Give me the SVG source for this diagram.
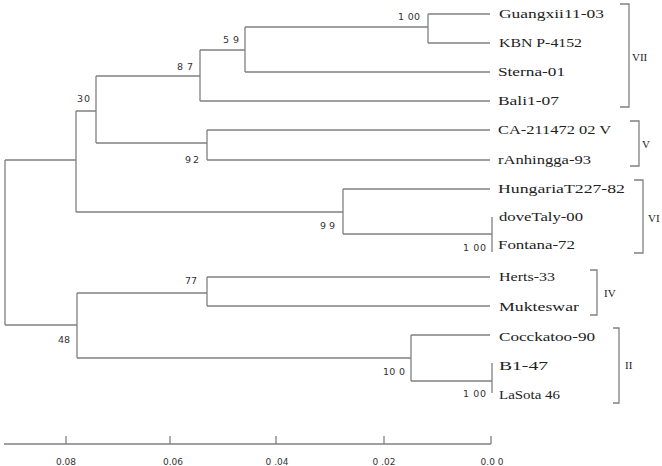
<svg xmlns="http://www.w3.org/2000/svg" width="662" height="466" viewBox="0 0 662 466">
<style>
  .br{stroke:#808080;stroke-width:1.3;fill:none}
  .leaf{font-family:"Liberation Serif","Times New Roman",serif;font-size:13.5px;fill:#222}
  .bs{font-family:"DejaVu Sans","Verdana",sans-serif;font-size:9.5px;fill:#333}
  .cl{font-family:"Liberation Serif","Times New Roman",serif;font-size:11px;fill:#222}
  .ax{font-family:"DejaVu Sans","Verdana",sans-serif;font-size:9px;fill:#333;text-anchor:middle}
</style>
<rect width="662" height="466" fill="#ffffff"/>
<g id="connectors" class="br">
  <!-- root -->
  <path d="M5,160 V325 M5,160 H76 M5,325 H77"/>
  <!-- upper clade node -->
  <path d="M76,111 V212 M76,111 H96 M76,212 H343"/>
  <!-- node 30 -->
  <path d="M96,76 V143 M96,76 H200 M96,143 H207"/>
  <!-- node 87 -->
  <path d="M200,50 V101 M200,50 H245 M200,101 H490"/>
  <!-- node 59 -->
  <path d="M245,27 V72 M245,27 H428 M245,72 H490"/>
  <!-- node 100 -->
  <path d="M428,14 V43 M428,14 H490 M428,43 H490"/>
  <!-- node 92 -->
  <path d="M207,130 V160 M207,130 H490 M207,160 H490"/>
  <!-- node 99 -->
  <path d="M343,189 V234 M343,189 H490 M343,234 H492"/>
  <path d="M492,217 V252"/>
  <!-- node 48 -->
  <path d="M77,293 V358 M77,293 H207 M77,358 H411"/>
  <!-- node 77 -->
  <path d="M207,277 V306 M207,277 H490 M207,306 H490"/>
  <!-- node 100 cockatoo -->
  <path d="M411,335 V381 M411,335 H490 M411,381 H492"/>
  <path d="M492,363 V393"/>
</g>
<g id="bootstrap">
  <g id="n100a"><text class="bs" x="398" y="20" textLength="22">1 00</text></g>
  <g id="n59"><text class="bs" x="223" y="43" textLength="16">5 9</text></g>
  <g id="n87"><text class="bs" x="177" y="70" textLength="16">8 7</text></g>
  <g id="n30"><text class="bs" x="77" y="102" textLength="13">30</text></g>
  <g id="n92"><text class="bs" x="185" y="163" textLength="14">9 2</text></g>
  <g id="n99"><text class="bs" x="320" y="229" textLength="15">99</text></g>
  <g id="n100b"><text class="bs" x="463" y="251" textLength="23">1 00</text></g>
  <g id="n77"><text class="bs" x="185" y="284" textLength="12">77</text></g>
  <g id="n48"><text class="bs" x="58" y="343" textLength="12">48</text></g>
  <g id="n100c"><text class="bs" x="383" y="375" textLength="22">10 0</text></g>
  <g id="n100d"><text class="bs" x="463" y="397" textLength="23">1 00</text></g>
</g>
<g id="leaves">
  <g id="leaf-guangxi"><text class="leaf" x="499" y="18" textLength="105" lengthAdjust="spacingAndGlyphs">Guangxii11-03</text></g>
  <g id="leaf-kbnp"><text class="leaf" x="499" y="47" textLength="83" lengthAdjust="spacingAndGlyphs">KBN P-4152</text></g>
  <g id="leaf-sterna"><text class="leaf" x="498" y="76" textLength="67" lengthAdjust="spacingAndGlyphs">Sterna-01</text></g>
  <g id="leaf-bali"><text class="leaf" x="498" y="105" textLength="61" lengthAdjust="spacingAndGlyphs">Bali1-07</text></g>
  <g id="leaf-ca"><text class="leaf" x="498" y="134" textLength="113" lengthAdjust="spacingAndGlyphs">CA-211472 02 V</text></g>
  <g id="leaf-anhingga"><text class="leaf" x="498" y="164" textLength="93" lengthAdjust="spacingAndGlyphs">rAnhingga-93</text></g>
  <g id="leaf-hungaria"><text class="leaf" x="498" y="193" textLength="127" lengthAdjust="spacingAndGlyphs">HungariaT227-82</text></g>
  <g id="leaf-dove"><text class="leaf" x="499" y="221" textLength="84" lengthAdjust="spacingAndGlyphs">doveTaly-00</text></g>
  <g id="leaf-fontana"><text class="leaf" x="498" y="249" textLength="77" lengthAdjust="spacingAndGlyphs">Fontana-72</text></g>
  <g id="leaf-herts"><text class="leaf" x="499" y="281" textLength="56" lengthAdjust="spacingAndGlyphs">Herts-33</text></g>
  <g id="leaf-mukteswar"><text class="leaf" x="499" y="311" textLength="80" lengthAdjust="spacingAndGlyphs">Mukteswar</text></g>
  <g id="leaf-cockatoo"><text class="leaf" x="499" y="341" textLength="96" lengthAdjust="spacingAndGlyphs">Cocckatoo-90</text></g>
  <g id="leaf-b1"><text class="leaf" x="499" y="370" textLength="49" lengthAdjust="spacingAndGlyphs">B1-47</text></g>
  <g id="leaf-lasota"><text class="leaf" x="499" y="399" textLength="61" lengthAdjust="spacingAndGlyphs">LaSota 46</text></g>
</g>
<g id="clusters">
  <g id="cl-VII"><path class="br" d="M620,4 H629 V107 H620"/><text class="cl" x="632" y="61">VII</text></g>
  <g id="cl-V"><path class="br" d="M630,121 H639 V166 H630"/><text class="cl" x="642" y="148">V</text></g>
  <g id="cl-VI"><path class="br" d="M634,180 H643 V253 H634"/><text class="cl" x="648" y="222">VI</text></g>
  <g id="cl-IV"><path class="br" d="M590,270 H597 V315 H590"/><text class="cl" x="604" y="297">IV</text></g>
  <g id="cl-II"><path class="br" d="M613,328 H619 V403 H613"/><text class="cl" x="625" y="369">II</text></g>
</g>
<g id="axis">
  <path class="br" d="M4,444 H491 M66,436 V444 M170,436 V444 M276,436 V444 M384,436 V444 M491,436 V444"/>
  <text class="ax" x="66" y="465">0.08</text>
  <text class="ax" x="173" y="465">0.06</text>
  <text class="ax" x="277" y="465">0 .04</text>
  <text class="ax" x="384" y="465">0 .02</text>
  <text class="ax" x="492" y="465">0.0 0</text>
</g>
</svg>
